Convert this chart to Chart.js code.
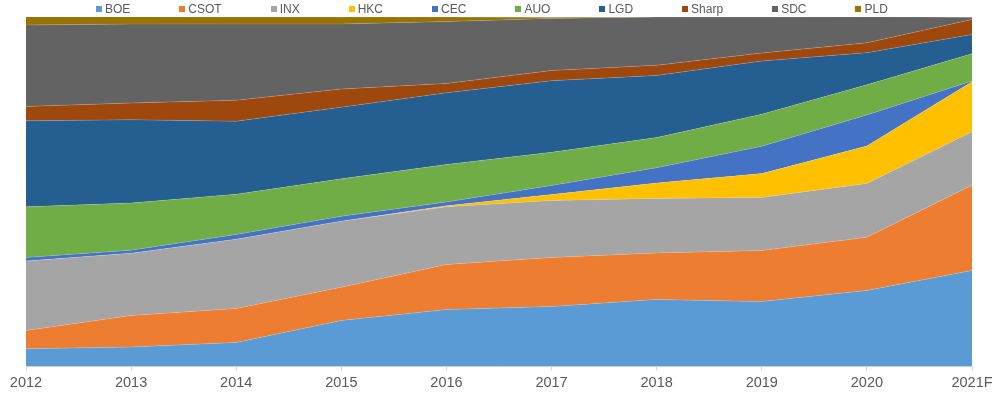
<!DOCTYPE html>
<html><head><meta charset="utf-8">
<script src="https://cdn.jsdelivr.net/npm/chart.js@4/dist/chart.umd.min.js"></script>
<style>
html,body{margin:0;padding:0;background:#fff;}
#wrap{position:relative;width:1000px;height:398px;}
#c{position:absolute;left:0;top:0;}
#legend{position:absolute;left:96px;top:1px;display:flex;gap:49px;font-family:"Liberation Sans",Arial,sans-serif;font-size:12px;color:#595959;line-height:16px;white-space:nowrap;}
.item{display:flex;align-items:center;}
.sw{width:6px;height:6px;margin-right:3px;display:inline-block;}
</style></head><body>
<div id="wrap"><canvas id="c" width="1000" height="398"></canvas><div id="legend"></div></div>
<script>
const years = ['2012','2013','2014','2015','2016','2017','2018','2019','2020','2021F'];
const seriesNames = ['BOE','CSOT','INX','HKC','CEC','AUO','LGD','Sharp','SDC','PLD'];
const BOE   = [5.1, 5.6, 6.9, 13.2, 16.3, 17.2, 19.2, 18.6, 21.8, 27.5];
const CSOT  = [5.2, 9.0, 9.7, 9.5, 12.9, 14.0, 13.3, 14.6, 15.2, 24.4];
const INX   = [19.9, 17.8, 19.8, 18.9, 16.5, 16.3, 15.6, 15.2, 15.4, 15.3];
const HKC   = [0, 0, 0, 0, 0.3, 1.7, 4.4, 6.8, 10.7, 14.3];
const CEC   = [1.0, 0.9, 1.4, 1.4, 1.1, 2.6, 4.4, 7.8, 8.9, 0.2];
const AUO   = [14.5, 13.5, 11.5, 10.7, 10.7, 9.5, 8.6, 9.2, 8.6, 7.8];
const LGD   = [24.6, 23.8, 20.9, 20.5, 20.5, 20.5, 17.8, 15.2, 9.2, 5.5];
const Sharp = [4.1, 4.8, 6.0, 5.2, 2.7, 2.9, 2.9, 2.3, 2.8, 4.3];
const SDC   = [23.3, 22.6, 21.8, 18.6, 17.7, 14.9, 13.8, 10.3, 7.5, 0.6];
const PLD   = [2.4, 2.1, 2.0, 2.0, 1.3, 0.3, 0, 0, 0, 0];

const seriesValues = [BOE, CSOT, INX, HKC, CEC, AUO, LGD, Sharp, SDC, PLD];
const colors = ['#5B9BD5','#ED7D31','#A5A5A5','#FFC000','#4472C4','#70AD47','#255E91','#9E480E','#636363','#997300'];

const datasets = seriesNames.map((name, i) => ({
  label: name,
  data: seriesValues[i],
  backgroundColor: colors[i],
  borderColor: 'rgba(255,255,255,0.25)',
  borderWidth: 0.6,
  pointRadius: 0,
  pointHoverRadius: 0,
  tension: 0,
  fill: i === 0 ? 'origin' : '-1'
}));

// HTML legend
const lg = document.getElementById('legend');
seriesNames.forEach((name, i) => {
  const it = document.createElement('div'); it.className = 'item';
  const sw = document.createElement('span'); sw.className = 'sw'; sw.style.background = colors[i];
  const tx = document.createElement('span'); tx.textContent = name;
  it.appendChild(sw); it.appendChild(tx); lg.appendChild(it);
});

new Chart(document.getElementById('c'), {
  type: 'line',
  data: { labels: years, datasets },
  options: {
    responsive: false,
    animation: false,
    layout: { padding: { left: 26, right: 28, top: 17, bottom: 2 } },
    plugins: { legend: { display: false }, tooltip: { enabled: false } },
    scales: {
      x: {
        offset: false,
        grid: { drawOnChartArea: false, drawTicks: true, tickLength: 4, color: '#D9D9D9' },
        border: { display: true, color: '#D9D9D9', width: 1 },
        ticks: { color: '#595959', font: { family: '"Liberation Sans", Arial, sans-serif', size: 14.5 }, padding: 4, maxRotation: 0, autoSkip: false }
      },
      y: { display: false, stacked: true, min: 0, max: 100 }
    }
  }
});
</script>
</body></html>
